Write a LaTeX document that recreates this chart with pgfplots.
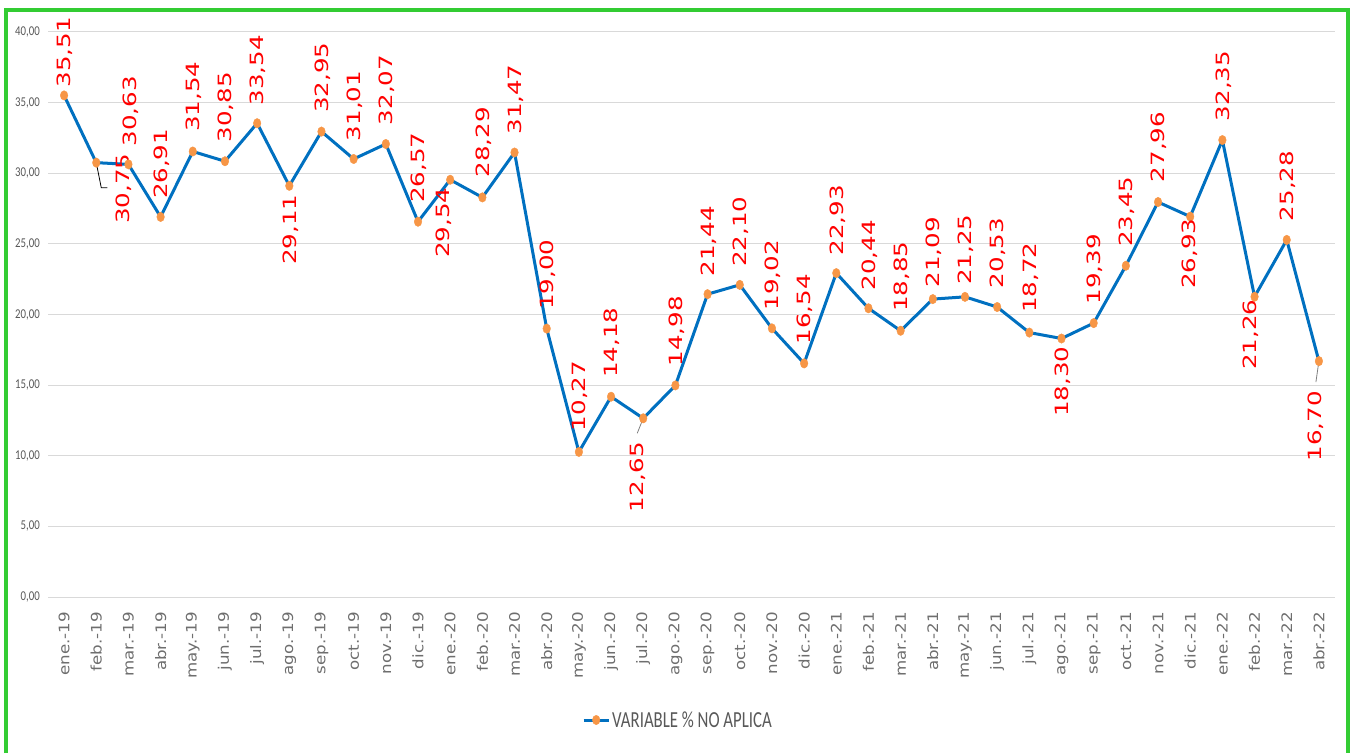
\documentclass[border=0pt]{standalone}
\usepackage{fontspec}
\usepackage{pgfplots}
\usepackage{pgfplotstable}
\pgfplotsset{compat=1.18}
\setmainfont{DejaVu Sans}
\newfontfamily\lblfont[FakeStretch=1.34]{DejaVu Sans}
\newfontfamily\xfont[FakeStretch=1.15]{DejaVu Sans}
\newfontfamily\yfont[FakeStretch=0.8]{Carlito}
\newfontfamily\legfont[FakeStretch=0.73]{Carlito}

\definecolor{lineblue}{RGB}{0,112,192}
\definecolor{markorange}{RGB}{247,150,70}
\definecolor{gridgray}{RGB}{217,217,217}
\definecolor{textgray}{RGB}{89,89,89}
\definecolor{ticktext}{RGB}{110,110,110}
\definecolor{framegreen}{RGB}{51,204,51}

% x = month index, y = value, dx/dy = label offset (pt)
\pgfplotstableread{
x  y      dx  dy
0  35.51  1   43
1  30.75  28  -26
2  30.63  2   53
3  26.91  1   53
4  31.54  1   55
5  30.85  1   54
6  33.54  1   53
7  29.11  1   -44
8  32.95  1   54
9  31.01  1   53
10 32.07  1   54
11 26.57  1   54
12 29.54  -6  -43
13 28.29  1   55
14 31.47  1   53
15 19.00  1   54
16 10.27  1   56
17 14.18  1   54
18 12.65  -5  -59
19 14.98  1   54
20 21.44  1   53
21 22.10  1   53
22 19.02  1   53
23 16.54  1   54
24 22.93  1   53
25 20.44  1   53
26 18.85  1   54
27 21.09  1   47
28 21.25  1   47
29 20.53  1   54
30 18.72  1   55
31 18.30  1   -43
32 19.39  1   54
33 23.45  1   54
34 27.96  1   55
35 26.93  0   -37
36 32.35  1   54
37 21.26  -4  -38
38 25.28  1   54
39 16.70  -3  -65
}\datatable

\begin{document}
\begin{tikzpicture}
\useasboundingbox (0,0) rectangle (1352pt,753pt);
\begin{axis}[
    at={(48pt,156pt)}, anchor=south west,
    scale only axis, width=1287pt, height=565pt,
    xmin=-0.5, xmax=39.5, ymin=0, ymax=40,
    ytick={0,5,...,40},
    xtick={0,...,39},
    xticklabels={ene.-19,feb.-19,mar.-19,abr.-19,may.-19,jun.-19,jul.-19,ago.-19,sep.-19,oct.-19,nov.-19,dic.-19,
                 ene.-20,feb.-20,mar.-20,abr.-20,may.-20,jun.-20,jul.-20,ago.-20,sep.-20,oct.-20,nov.-20,dic.-20,
                 ene.-21,feb.-21,mar.-21,abr.-21,may.-21,jun.-21,jul.-21,ago.-21,sep.-21,oct.-21,nov.-21,dic.-21,
                 ene.-22,feb.-22,mar.-22,abr.-22},
    axis line style={draw=none},
    major tick length=0pt,
    ymajorgrids,
    grid style={gridgray, line width=1pt},
    /pgf/number format/assume math mode=true,
    yticklabel style={/pgf/number format/fixed, /pgf/number format/fixed zerofill,
                      /pgf/number format/precision=2, /pgf/number format/use comma,
                      font=\yfont\fontsize{13.5}{14}\selectfont, text=textgray, anchor=east, inner sep=0pt, xshift=-8pt},
    xticklabel style={font=\xfont\fontsize{14.5}{16}\selectfont, text=ticktext, yshift=-15pt, rotate=90, anchor=east, inner sep=0pt},
    clip=false,
    nodes near coords={\pgfmathprintnumber[fixed,fixed zerofill,precision=2,use comma,assume math mode=true]{\pgfplotspointmeta}},
    visualization depends on={\thisrow{dx}\as\dx},
    visualization depends on={\thisrow{dy}\as\dy},
    every node near coord/.append style={font=\lblfont\fontsize{18.3}{20}\selectfont, text=red, anchor=center, inner sep=0pt, xshift=\dx pt, yshift=\dy pt, rotate=90},
    legend style={at={(axis description cs:0.4895,-0.2177)}, anchor=center, draw=none, fill=none,
                  font=\legfont\fontsize{23}{24}\selectfont, text=textgray},
    legend image code/.code={\draw[#1, mark repeat=2, mark phase=2] plot coordinates {(0pt,0pt) (12.5pt,0pt) (25pt,0pt)};},
]
\addplot[lineblue, line width=3pt, line join=round, mark=*, mark size=3.8pt,
         mark options={fill=markorange, draw=markorange, line width=0.4pt, yscale=1.25}, point meta=y]
    table[x=x, y=y]{\datatable};
\addlegendentry{VARIABLE \% NO APLICA}
\draw[black, line width=0.8pt] (axis cs:1,30.75) -- ++(5pt,-25pt) -- ++(6pt,0pt);
\draw[gray, line width=0.8pt] (axis cs:18,12.65) -- ++(-6pt,-15pt);
\draw[gray, line width=0.8pt] (axis cs:39,16.70) -- ++(-3pt,-21pt);
\end{axis}
\draw[framegreen, line width=4pt] (6pt,0pt) -- (6pt,743pt) -- (1348pt,743pt) -- (1348pt,0pt);
\end{tikzpicture}
\end{document}
